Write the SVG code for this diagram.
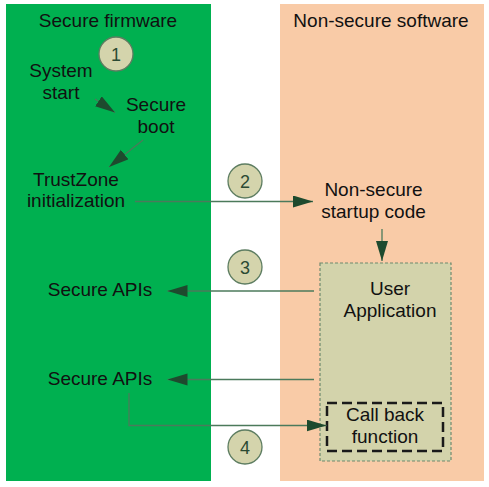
<svg xmlns="http://www.w3.org/2000/svg" width="489" height="487" viewBox="0 0 489 487">
<style>
text{font-family:"Liberation Sans",Arial,sans-serif;font-size:19px;fill:#111;text-anchor:middle}
.num{fill:#2b4a33;font-size:18px}
.step{fill:#d4d4ac;stroke:#5d7d61;stroke-width:1.3}
.conn{fill:none;stroke:#4b7a5b;stroke-width:1.3}
</style>
<defs>
<marker id="ah" markerUnits="userSpaceOnUse" markerWidth="22" markerHeight="14" refX="20" refY="6" orient="auto">
<path d="M0,0 L20,6 L0,12 z" fill="#1e4a2e"/>
</marker>
</defs>
<rect width="489" height="487" fill="#ffffff"/>
<g id="secure-firmware">
<rect x="6" y="4" width="205" height="477" fill="#00b050"/>
<text x="108" y="27">Secure firmware</text>
</g>
<g id="non-secure-software">
<rect x="280" y="4" width="204" height="477" fill="#f9cba7"/>
<text x="381" y="27">Non-secure software</text>
</g>
<g id="step1"><circle class="step" cx="116" cy="54" r="17"/><text class="num" x="116" y="60.5">1</text></g>
<g id="step2"><circle class="step" cx="245" cy="181" r="17"/><text class="num" x="245" y="187.5">2</text></g>
<g id="step3"><circle class="step" cx="245" cy="267" r="17"/><text class="num" x="245" y="273.5">3</text></g>
<g id="step4"><circle class="step" cx="245" cy="447" r="17"/><text class="num" x="245" y="453.5">4</text></g>
<g id="system-start"><text x="61" y="77">System</text><text x="61" y="99">start</text></g>
<g id="secure-boot"><text x="156" y="111">Secure</text><text x="156" y="133">boot</text></g>
<g id="trustzone-init"><text x="76" y="186">TrustZone</text><text x="76" y="207">initialization</text></g>
<g id="non-secure-startup"><text x="373.5" y="196">Non-secure</text><text x="373.5" y="218">startup code</text></g>
<g id="secure-apis-1"><text x="100" y="296">Secure APIs</text></g>
<g id="secure-apis-2"><text x="100" y="385">Secure APIs</text></g>
<g id="user-application">
<rect x="320" y="263" width="131" height="198" fill="#d3d3ab" stroke="#6f8a6f" stroke-width="1.2" stroke-dasharray="3,2"/>
<text x="390" y="295">User</text>
<text x="390" y="317">Application</text>
</g>
<g id="call-back-function">
<rect x="327" y="403" width="116" height="48" fill="none" stroke="#1a1a1a" stroke-width="2.5" stroke-dasharray="10,5"/>
<text x="385" y="421">Call back</text>
<text x="385" y="443">function</text>
</g>
<g id="connectors">
<line class="conn" x1="95" y1="99" x2="115" y2="112.5" marker-end="url(#ah)"/>
<line class="conn" x1="143" y1="140" x2="109" y2="167" marker-end="url(#ah)"/>
<line class="conn" x1="135" y1="201.5" x2="313" y2="201.5" marker-end="url(#ah)"/>
<line class="conn" x1="382" y1="229" x2="382" y2="261" marker-end="url(#ah)"/>
<line class="conn" x1="314" y1="291" x2="167.5" y2="291" marker-end="url(#ah)"/>
<line class="conn" x1="314" y1="379.5" x2="167.5" y2="379.5" marker-end="url(#ah)"/>
<polyline class="conn" points="129,393 129,425.5 326.5,425.5" marker-end="url(#ah)"/>
</g>
</svg>
